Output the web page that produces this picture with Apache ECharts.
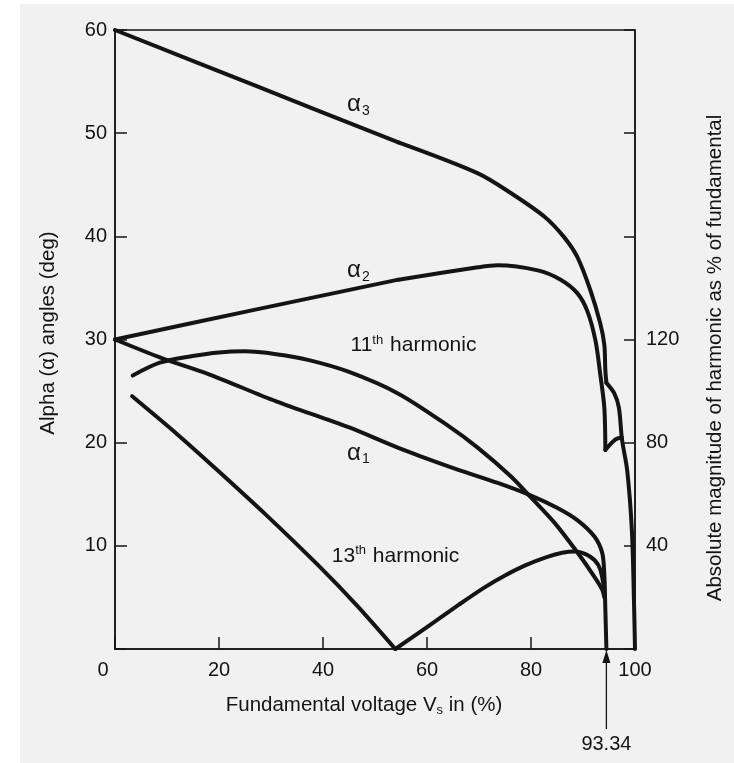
<!DOCTYPE html>
<html lang="en">
<head>
<meta charset="UTF-8">
<title>Alpha angles and harmonics vs fundamental voltage</title>
<script src="https://cdn.jsdelivr.net/npm/echarts@6/dist/echarts.min.js"></script>
<style>
    html, body { margin: 0; padding: 0; background: #fff; }
    #main { width: 734px; height: 763px; }
</style>
</head>
<body>
<div id="main"></div>
<script type="text/javascript">
    // x = fundamental voltage Vs (%), alpha angles in deg (left axis)
    var alpha3 = [[0, 60], [27, 54.6], [54.5, 49.1], [69.8, 46.1], [76.1, 44.2], [82.6, 41.9], [86.4, 39.9], [88.9, 38.0],
        [91.4, 34.8], [93.3, 31.6], [94.1, 29.5], [94.3, 27.0], [94.5, 25.8], [96.0, 24.8], [96.9, 23.4],
        [97.5, 20.3], [98.5, 17.3], [99.4, 11.5], [99.8, 4.7], [100, 0]]
    var alpha2 = [[0, 30], [27, 32.9], [54.5, 35.8], [69.8, 37.0], [73.6, 37.2], [81.3, 36.7], [85.7, 35.8], [88.9, 34.5],
        [90.8, 32.8], [92.4, 29.9], [93.3, 26.7], [94.1, 23.4], [94.3, 19.3], [96.2, 20.3], [97.5, 20.5]]
    var alpha1 = [[0, 30], [9, 28.2], [18.2, 26.6], [31.0, 24.0], [44.9, 21.5], [54.5, 19.5], [64.1, 17.7], [73.6, 16.1],
        [79.9, 14.9], [85.0, 13.7], [88.9, 12.5], [92.2, 10.9], [93.7, 9.3], [94.1, 7.2], [94.3, 3.8], [94.5, 0]]

    // harmonic magnitudes, % of fundamental (right axis)
    var harm11 = [[3.4, 106], [8.6, 111], [14.9, 113.6], [20, 115], [25, 115.4], [31.0, 114.3], [37.3, 112], [44.9, 107.5],
        [54.5, 99], [64.1, 86.5], [69.8, 78], [76.1, 67], [79.9, 59], [84.5, 49], [88.9, 37.5], [92.2, 28],
        [93.7, 23], [94.1, 20]]
    var harm13 = [[3.3, 98], [11.9, 83.4], [19.5, 69.7], [29, 52.1], [39.2, 32.2], [46.5, 16.9], [53.9, 0],
        [60, 8.5], [66, 17], [71, 23.8], [75, 28.5], [79, 32.5], [83, 35.6], [86, 37.3], [88.5, 37.8],
        [90.5, 36.8], [92.2, 34.5], [93.3, 31], [94.1, 23]]

    // tick labels
    var xTicks = [0, 20, 40, 60, 80, 100]
    var leftTicks = [10, 20, 30, 40, 50, 60]
    var rightTicks = [40, 80, 120]

    // curve labels: text and where they sit (in x %, alpha deg)
    var labelTexts = ['{a|α}{sub|3}', '{a|α}{sub|2}', '{a|α}{sub|1}', '{t|11}{sup|th}{t| harmonic}', '{t|13}{sup|th}{t| harmonic}']
    var labelAt = [[46.8, 52.8], [46.8, 36.7], [46.8, 19.0], [45.3, 29.4], [41.7, 9.0]]
    var limitText = '93.34'

    var ink = '#141414'
    var font = '"Liberation Sans", Arial, sans-serif'

    var chart = echarts.init(document.getElementById('main'))

    // one curve, drawn smooth but broken into pieces at its sharp corners
    function curve(data, axisIdx, corners) {
        var cuts = [0].concat(corners || [], [data.length - 1])
        var out = []
        for (let i = 0; i < cuts.length - 1; i++) {
            out.push({
                type: 'line',
                yAxisIndex: axisIdx,
                data: data.slice(cuts[i], cuts[i + 1] + 1),
                showSymbol: false,
                smooth: 0.3,
                lineStyle: {color: ink, width: 4, join: 'round', cap: 'round'},
                silent: true,
                z: 3
            })
        }
        return out
    }

    var labelData = []
    for (let i = 0; i < labelTexts.length; i++) {
        labelData.push({
            value: labelAt[i],
            label: {
                formatter: labelTexts[i],
                position: i < 3 ? 'inside' : 'right',
                distance: 0
            }
        })
    }

    var series = [].concat(
        curve(alpha3, 0, [2, 12]),
        curve(alpha2, 0, [2, 12]),
        curve(alpha1, 0),
        curve(harm11, 1),
        curve(harm13, 1, [6])
    )

    series.push({
        type: 'scatter',
        yAxisIndex: 0,
        symbolSize: 0,
        silent: true,
        z: 5,
        itemStyle: {opacity: 1},
        label: {
            show: true,
            color: ink,
            rich: {
                a: {fontSize: 24, color: ink, fontFamily: font},
                sub: {fontSize: 14, color: ink, fontFamily: font, padding: [13, 0, 0, 1]},
                t: {fontSize: 21, color: ink, fontFamily: font},
                sup: {fontSize: 13, color: ink, fontFamily: font, padding: [0, 1, 11, 0]}
            }
        },
        data: labelData
    })

    series.push({
        // arrow marking where the curves meet the axis
        type: 'custom',
        yAxisIndex: 0,
        silent: true,
        data: [[alpha1[alpha1.length - 1][0], 0]],
        renderItem: function (params, api) {
            var p = api.coord([api.value(0), api.value(1)])
            var x = p[0], y = p[1]
            return {
                type: 'group',
                children: [
                    {type: 'line', shape: {x1: x, y1: y + 10, x2: x, y2: y + 80},
                        style: {stroke: ink, lineWidth: 1.3}},
                    {type: 'polygon', shape: {points: [[x, y + 1], [x - 4, y + 14], [x + 4, y + 14]]},
                        style: {fill: ink}},
                    {type: 'text', x: x, y: y + 85,
                        style: {text: limitText, fontSize: 20, fontFamily: font, fill: ink,
                            align: 'center', verticalAlign: 'top'}}
                ]
            }
        }
    })

    var option = {
        backgroundColor: '#fff',
        animation: false,
        textStyle: {fontFamily: font},
        graphic: [{
            type: 'rect', left: 20, top: 4, z: -10, silent: true,
            shape: {width: 714, height: 759},
            style: {fill: '#f1f1f1'}
        }],
        grid: {
            left: 115, right: 96, top: 30, bottom: 114,
            show: true, borderColor: ink, borderWidth: 1.5, backgroundColor: 'transparent'
        },
        xAxis: {
            type: 'value', min: 0, max: 100, interval: 20,
            name: '{n|Fundamental voltage V}{s|s}{n| in (%)}',
            nameLocation: 'middle', nameGap: 45,
            nameTextStyle: {
                padding: [0, 22, 0, 0],
                rich: {
                    n: {fontSize: 20.5, color: ink, fontFamily: font},
                    s: {fontSize: 13, color: ink, fontFamily: font, padding: [10, 0, 0, 0]}
                }
            },
            axisLine: {lineStyle: {color: ink, width: 1.5}},
            axisTick: {inside: true, length: 12, lineStyle: {color: ink, width: 1.5}},
            axisLabel: {
                margin: 11, color: ink, fontSize: 20,
                formatter: function (v) {
                    if (xTicks.indexOf(v) < 0) return ''
                    return v === 0 ? '{z|0}' : String(v)
                },
                rich: {z: {fontSize: 20, color: ink, fontFamily: font, padding: [0, 24, 0, 0]}}
            },
            splitLine: {show: false}
        },
        yAxis: [{
            type: 'value', min: 0, max: 60, interval: 10,
            name: 'Alpha (α) angles (deg)',
            nameLocation: 'middle', nameRotate: 90, nameGap: 56,
            nameTextStyle: {fontSize: 20.5, color: ink, padding: [0, 0, 0, 13]},
            axisLine: {show: true, lineStyle: {color: ink, width: 1.5}},
            axisTick: {inside: true, length: 12, lineStyle: {color: ink, width: 1.5}},
            axisLabel: {
                margin: 8, color: ink, fontSize: 20,
                formatter: function (v) { return leftTicks.indexOf(v) < 0 ? '' : String(v) }
            },
            splitLine: {show: false}
        }, {
            type: 'value', position: 'right', min: 0, max: 240, interval: 40,
            name: 'Absolute magnitude of harmonic as % of fundamental',
            nameLocation: 'middle', nameRotate: 90, nameGap: 70,
            nameTextStyle: {fontSize: 20.5, color: ink, padding: [0, 37, 0, 0]},
            axisLine: {show: true, lineStyle: {color: ink, width: 1.5}},
            axisTick: {inside: true, length: 11, lineStyle: {color: ink, width: 1.5}},
            axisLabel: {
                margin: 11, color: ink, fontSize: 20,
                formatter: function (v) { return rightTicks.indexOf(v) < 0 ? '' : String(v) }
            },
            splitLine: {show: false}
        }],
        series: series
    }

    chart.setOption(option)
</script>
</body>
</html>
